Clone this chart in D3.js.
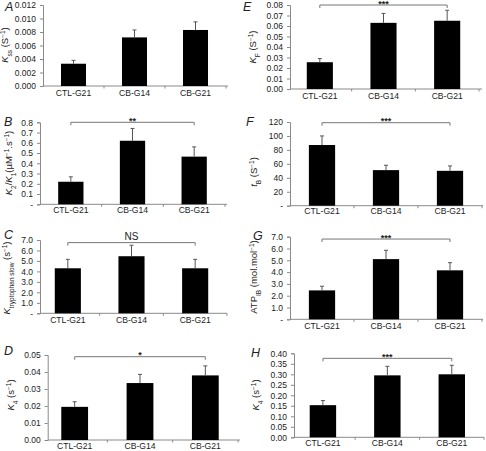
<!DOCTYPE html>
<html><head><meta charset="utf-8">
<script src="https://cdn.jsdelivr.net/npm/d3@7"></script>
<style>body{margin:0;background:#fff}svg{display:block}text{font-family:"Liberation Sans",Arial,sans-serif}</style>
</head><body>
<svg id="c" width="486" height="451"></svg>
<script>
const categories = ["CTL-G21", "CB-G14", "CB-G21"];

const valuesA = [0.0033, 0.0072, 0.0083];
const errTopA = [0.0038, 0.0083, 0.0095];
const ticksA = [0, 0.002, 0.004, 0.006, 0.008, 0.010, 0.012];

const valuesB = [0.22, 0.62, 0.465];
const errTopB = [0.268, 0.74, 0.56];
const ticksB = [0, 0.1, 0.2, 0.3, 0.4, 0.5, 0.6, 0.7, 0.8];

const valuesC = [4.3, 5.45, 4.3];
const errTopC = [5.15, 6.5, 5.15];
const ticksC = [0, 1, 2, 3, 4, 5, 6, 7];

const valuesD = [0.0195, 0.0335, 0.038];
const errTopD = [0.0225, 0.0386, 0.0436];
const ticksD = [0, 0.01, 0.02, 0.03, 0.04, 0.05];

const valuesE = [0.0255, 0.063, 0.065];
const errTopE = [0.029, 0.072, 0.075];
const ticksE = [0, 0.01, 0.02, 0.03, 0.04, 0.05, 0.06, 0.07, 0.08];

const valuesF = [87, 51, 50];
const errTopF = [100, 58, 57];
const ticksF = [0, 20, 40, 60, 80, 100, 120];

const valuesG = [2.45, 5.1, 4.15];
const errTopG = [2.8, 5.85, 4.8];
const ticksG = [0, 1, 2, 3, 4, 5, 6, 7];

const valuesH = [0.153, 0.295, 0.30];
const errTopH = [0.175, 0.338, 0.343];
const ticksH = [0, 0.05, 0.10, 0.15, 0.20, 0.25, 0.30, 0.35, 0.40];

const sigA = null, sigB = "**", sigC = "NS", sigD = "*", sigE = "***", sigF = "***", sigG = "***", sigH = "***";
const sigLevelB = 0.8, sigLevelC = 6.75, sigLevelD = 0.049, sigLevelE = 0.08, sigLevelF = 119, sigLevelG = 6.8, sigLevelH = 0.376;

const svg = d3.select("#c");

const panels = [
  {letter:"A", lx:5, ly:11, values:valuesA, err:errTopA, ticks:ticksA, fmt:d3.format(".3f"), zeroDash:false,
   axisX:43, band:[43,226], lineEnd:228, top:5, bot:86, labY:96,
   title:[{t:"K",i:1},{t:"ss",s:"sub"},{t:" (S"},{t:"−1",s:"sup"},{t:")"}], tx:8, ty:45, sig:sigA},
  {letter:"B", lx:4, ly:126, values:valuesB, err:errTopB, ticks:ticksB, fmt:d3.format(".1f"), zeroDash:true,
   axisX:40, band:[40,225], lineEnd:227, top:122.3, bot:204.3, labY:213,
   title:[{t:"K",i:1},{t:"2",s:"sub"},{t:"/"},{t:"K",i:1},{t:"1",s:"sub"},{t:"(µM"},{t:"−1",s:"sup"},{t:".s"},{t:"−1",s:"sup"},{t:")"}], tx:12, ty:163, sig:sigB, sigLevel:sigLevelB},
  {letter:"C", lx:4, ly:239, values:valuesC, err:errTopC, ticks:ticksC, fmt:d3.format(".1f"), zeroDash:true,
   axisX:40, band:[36,227], lineEnd:227, top:240, bot:313.3, labY:323,
   title:[{t:"K",i:1},{t:"tryptophan slow",s:"sub"},{t:" (s"},{t:"−1",s:"sup"},{t:")"}], tx:10, ty:278, sig:sigC, sigLevel:sigLevelC},
  {letter:"D", lx:4, ly:355, values:valuesD, err:errTopD, ticks:ticksD, fmt:d3.format(".2f"), zeroDash:false,
   axisX:47.7, band:[42,238], lineEnd:240, top:355, bot:440, labY:449,
   title:[{t:"K",i:1},{t:"4",s:"sub"},{t:" (s"},{t:"−1",s:"sup"},{t:")"}], tx:14, ty:395, sig:sigD, sigLevel:sigLevelD},
  {letter:"E", lx:243, ly:11, values:valuesE, err:errTopE, ticks:ticksE, fmt:d3.format(".2f"), zeroDash:false,
   axisX:290, band:[288,479], lineEnd:482, top:5, bot:89, labY:99,
   title:[{t:"K",i:1},{t:"F",s:"sub"},{t:" (S"},{t:"−1",s:"sup"},{t:")"}], tx:256, ty:47, sig:sigE, sigLevel:sigLevelE},
  {letter:"F", lx:246, ly:126, values:valuesF, err:errTopF, ticks:ticksF, fmt:d3.format("d"), zeroDash:true,
   axisX:290, band:[290,482], lineEnd:483, top:122, bot:205.7, labY:214,
   title:[{t:"t",i:1},{t:"B",s:"sub"},{t:" (S"},{t:"−1",s:"sup"},{t:")"}], tx:257, ty:172, sig:sigF, sigLevel:sigLevelF},
  {letter:"G", lx:253, ly:240, values:valuesG, err:errTopG, ticks:ticksG, fmt:d3.format(".1f"), zeroDash:true,
   axisX:290, band:[290,482], lineEnd:483, top:236.7, bot:319.3, labY:329,
   title:[{t:"ATP"},{t:"IB",s:"sub"},{t:" (mol.mol"},{t:"−1",s:"sup"},{t:")"}], tx:257, ty:277, sig:sigG, sigLevel:sigLevelG},
  {letter:"H", lx:251, ly:357, values:valuesH, err:errTopH, ticks:ticksH, fmt:d3.format(".2f"), zeroDash:false,
   axisX:294, band:[290.7,484], lineEnd:484, top:353.3, bot:437.3, labY:446,
   title:[{t:"K",i:1},{t:"4",s:"sub"},{t:" (s"},{t:"−1",s:"sup"},{t:")"}], tx:259, ty:395, sig:sigH, sigLevel:sigLevelH}
];

const axisCol = "#8a8a8a", textCol = "#222";

panels.forEach(p => {
  const g = svg.append("g");
  const x = d3.scaleBand().domain(categories).range(p.band);
  const y = d3.scaleLinear().domain([0, p.ticks[p.ticks.length-1]]).range([p.bot, p.top]);

  // y axis
  const ya = d3.axisLeft(y).tickValues(p.ticks).tickSize(3).tickPadding(4)
    .tickFormat(v => (v === 0 && p.zeroDash) ? "-" : p.fmt(v));
  const yg = g.append("g").attr("transform", `translate(${p.axisX},0)`).call(ya);
  yg.select(".domain").attr("stroke", axisCol);
  yg.selectAll(".tick line").attr("stroke", axisCol);
  yg.selectAll(".tick text").attr("fill", textCol).style("font-size", "8.5px").style("font-family", '"Liberation Sans",Arial,sans-serif');

  // x axis line with ticks at band boundaries
  g.append("line").attr("x1", p.axisX).attr("x2", p.lineEnd).attr("y1", p.bot).attr("y2", p.bot)
    .attr("stroke", axisCol).attr("stroke-width", 1);
  categories.forEach((c, i) => {
    if (i === 0) return;
    const bx = x(c);
    g.append("line").attr("x1", bx).attr("x2", bx).attr("y1", p.bot).attr("y2", p.bot + 2.5).attr("stroke", axisCol);
  });
  g.append("line").attr("x1", p.band[1]).attr("x2", p.band[1]).attr("y1", p.bot).attr("y2", p.bot + 2.5).attr("stroke", axisCol);

  // category labels
  g.selectAll(".cl").data(categories).enter().append("text")
    .attr("x", d => x(d) + x.bandwidth()/2).attr("y", p.labY)
    .attr("text-anchor", "middle").attr("fill", textCol).style("font-size", "8.6px").text(d => d);

  const bw = x.bandwidth() * 0.41;
  // bars
  g.selectAll(".bar").data(p.values).enter().append("rect")
    .attr("x", (d, i) => x(categories[i]) + x.bandwidth()/2 - bw/2)
    .attr("y", d => y(d)).attr("width", bw).attr("height", d => p.bot - y(d)).attr("fill", "#000");

  // error bars
  p.err.forEach((e, i) => {
    const cx = x(categories[i]) + x.bandwidth()/2;
    g.append("line").attr("x1", cx).attr("x2", cx).attr("y1", y(p.values[i])).attr("y2", y(e)).attr("stroke", "#555").attr("stroke-width", 1);
    g.append("line").attr("x1", cx - 2).attr("x2", cx + 2).attr("y1", y(e)).attr("y2", y(e)).attr("stroke", "#555").attr("stroke-width", 1);
  });

  // significance bracket
  if (p.sig) {
    const x1 = x(categories[0]) + x.bandwidth()/2, x2 = x(categories[2]) + x.bandwidth()/2;
    const by = y(p.sigLevel);
    g.append("path").attr("d", `M${x1},${by+3}V${by}H${x2}V${by+3}`).attr("fill", "none").attr("stroke", "#777").attr("stroke-width", 1);
    const isStar = p.sig !== "NS";
    g.append("text").attr("x", (x1 + x2)/2).attr("y", isStar ? by + 1.5 : by - 3)
      .attr("text-anchor", "middle").attr("fill", textCol)
      .style("font-size", isStar ? "9px" : "10px").style("font-weight", isStar ? "bold" : "normal").text(p.sig);
  }

  // panel letter
  g.append("text").attr("x", p.lx).attr("y", p.ly).attr("fill", textCol)
    .style("font-size", "12.5px").style("font-style", "italic").text(p.letter);

  // axis title
  const t = g.append("text").attr("transform", `translate(${p.tx},${p.ty}) rotate(-90)`)
    .attr("text-anchor", "middle").attr("fill", textCol).style("font-size", "9.5px");
  p.title.forEach(part => {
    const ts = t.append("tspan").text(part.t);
    if (part.i) ts.style("font-style", "italic");
    if (part.s === "sub") ts.attr("baseline-shift", "sub").style("font-size", "6.5px");
    if (part.s === "sup") ts.attr("baseline-shift", "super").style("font-size", "6.5px");
  });
});
</script>
</body></html>
